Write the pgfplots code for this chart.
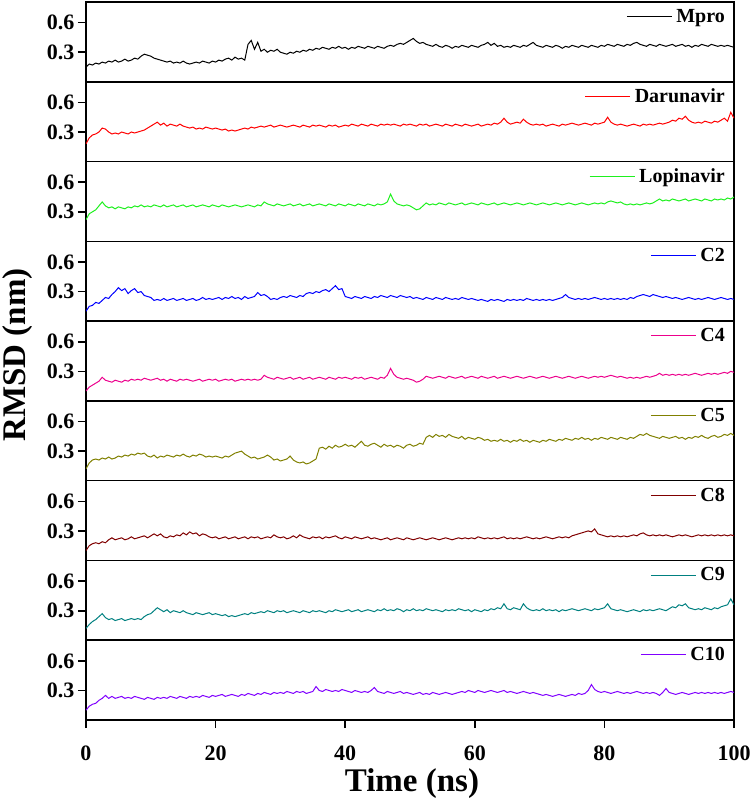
\documentclass[border=0pt]{standalone}
\usepackage{fontspec}
\setmainfont{Liberation Serif}
\usepackage{pgfplots}
\usepackage{pgfplotstable}
\pgfplotsset{compat=1.18}
\definecolor{cgreen}{RGB}{30,240,30}
\definecolor{colive}{RGB}{128,128,0}
\definecolor{cwine}{RGB}{128,0,0}
\definecolor{cteal}{RGB}{0,128,128}
\definecolor{cviolet}{RGB}{128,0,255}

\pgfplotstableread{
t M D L B P O W T V
0 0.15 0.18 0.22 0.10 0.10 0.12 0.10 0.12 0.10
0.5 0.18 0.24 0.28 0.15 0.14 0.18 0.15 0.16 0.14
1 0.17 0.27 0.30 0.16 0.16 0.21 0.17 0.19 0.16
1.5 0.19 0.28 0.32 0.19 0.18 0.22 0.18 0.21 0.17
2 0.18 0.30 0.36 0.18 0.20 0.21 0.17 0.24 0.20
2.5 0.20 0.34 0.40 0.21 0.24 0.23 0.19 0.27 0.22
3 0.19 0.33 0.36 0.24 0.21 0.22 0.18 0.23 0.25
3.5 0.21 0.30 0.34 0.23 0.20 0.24 0.21 0.21 0.22
4 0.20 0.28 0.35 0.27 0.19 0.22 0.23 0.22 0.24
4.5 0.22 0.29 0.33 0.30 0.21 0.23 0.21 0.20 0.22
5 0.20 0.28 0.35 0.34 0.20 0.25 0.22 0.21 0.23
5.5 0.21 0.30 0.34 0.31 0.19 0.24 0.23 0.22 0.24
6 0.23 0.29 0.33 0.33 0.21 0.26 0.21 0.20 0.22
6.5 0.21 0.28 0.35 0.28 0.20 0.25 0.22 0.21 0.23
7 0.22 0.30 0.34 0.31 0.22 0.27 0.24 0.22 0.22
7.5 0.24 0.29 0.36 0.33 0.21 0.26 0.22 0.21 0.24
8 0.23 0.30 0.35 0.29 0.22 0.28 0.23 0.22 0.23
8.5 0.26 0.31 0.37 0.30 0.21 0.27 0.24 0.21 0.22
9 0.28 0.32 0.35 0.26 0.23 0.28 0.25 0.24 0.21
9.5 0.27 0.34 0.36 0.25 0.22 0.25 0.23 0.26 0.23
10 0.26 0.36 0.35 0.24 0.21 0.24 0.25 0.27 0.22
10.5 0.24 0.38 0.37 0.21 0.22 0.26 0.27 0.30 0.21
11 0.23 0.40 0.36 0.22 0.23 0.23 0.25 0.33 0.23
11.5 0.22 0.37 0.35 0.21 0.21 0.25 0.27 0.31 0.22
12 0.21 0.39 0.37 0.23 0.22 0.24 0.24 0.29 0.23
12.5 0.20 0.36 0.35 0.21 0.20 0.26 0.23 0.31 0.22
13 0.21 0.38 0.36 0.22 0.22 0.25 0.25 0.28 0.24
13.5 0.19 0.37 0.37 0.23 0.21 0.24 0.24 0.30 0.23
14 0.20 0.36 0.35 0.21 0.20 0.26 0.26 0.29 0.22
14.5 0.19 0.38 0.36 0.22 0.22 0.25 0.25 0.28 0.24
15 0.21 0.36 0.37 0.23 0.21 0.27 0.28 0.30 0.23
15.5 0.19 0.35 0.35 0.21 0.22 0.25 0.26 0.28 0.22
16 0.18 0.34 0.36 0.22 0.21 0.24 0.29 0.27 0.24
16.5 0.19 0.35 0.37 0.23 0.20 0.26 0.27 0.26 0.23
17 0.20 0.33 0.35 0.21 0.21 0.25 0.28 0.28 0.24
17.5 0.19 0.34 0.36 0.22 0.22 0.27 0.25 0.27 0.23
18 0.21 0.33 0.37 0.24 0.20 0.26 0.27 0.26 0.25
18.5 0.20 0.35 0.36 0.22 0.21 0.24 0.26 0.27 0.24
19 0.19 0.34 0.35 0.23 0.22 0.25 0.24 0.28 0.23
19.5 0.21 0.33 0.37 0.22 0.21 0.24 0.23 0.26 0.25
20 0.20 0.34 0.36 0.23 0.22 0.25 0.24 0.27 0.24
20.5 0.22 0.33 0.35 0.24 0.20 0.24 0.22 0.26 0.25
21 0.21 0.32 0.37 0.22 0.21 0.23 0.23 0.25 0.26
21.5 0.23 0.33 0.36 0.24 0.22 0.25 0.24 0.26 0.24
22 0.24 0.31 0.35 0.23 0.21 0.24 0.22 0.24 0.25
22.5 0.22 0.32 0.36 0.25 0.22 0.26 0.23 0.25 0.26
23 0.25 0.31 0.37 0.23 0.20 0.28 0.24 0.24 0.25
23.5 0.23 0.32 0.36 0.24 0.21 0.29 0.22 0.25 0.24
24 0.24 0.33 0.35 0.22 0.22 0.30 0.23 0.26 0.26
24.5 0.22 0.34 0.36 0.25 0.21 0.27 0.24 0.27 0.25
25 0.38 0.33 0.37 0.23 0.22 0.25 0.22 0.26 0.27
25.5 0.42 0.35 0.36 0.24 0.21 0.23 0.24 0.28 0.26
26 0.33 0.34 0.35 0.25 0.22 0.24 0.23 0.27 0.25
26.5 0.40 0.35 0.37 0.29 0.21 0.22 0.24 0.28 0.27
27 0.31 0.36 0.36 0.26 0.22 0.23 0.22 0.29 0.26
27.5 0.33 0.35 0.40 0.27 0.26 0.24 0.23 0.28 0.28
28 0.30 0.36 0.38 0.25 0.24 0.26 0.24 0.30 0.27
28.5 0.32 0.37 0.37 0.22 0.23 0.24 0.23 0.29 0.26
29 0.31 0.35 0.36 0.23 0.22 0.21 0.26 0.28 0.28
29.5 0.33 0.36 0.38 0.22 0.24 0.22 0.24 0.30 0.27
30 0.30 0.37 0.37 0.24 0.23 0.20 0.23 0.29 0.28
30.5 0.29 0.36 0.36 0.25 0.22 0.21 0.24 0.30 0.27
31 0.28 0.35 0.37 0.24 0.23 0.22 0.22 0.28 0.29
31.5 0.30 0.36 0.38 0.26 0.24 0.25 0.23 0.29 0.28
32 0.29 0.37 0.36 0.25 0.22 0.21 0.25 0.30 0.27
32.5 0.31 0.36 0.37 0.24 0.23 0.19 0.23 0.29 0.29
33 0.30 0.35 0.38 0.26 0.24 0.18 0.26 0.28 0.28
33.5 0.32 0.37 0.36 0.25 0.22 0.19 0.24 0.30 0.29
34 0.31 0.36 0.37 0.28 0.23 0.17 0.23 0.29 0.27
34.5 0.33 0.35 0.38 0.29 0.24 0.18 0.22 0.28 0.28
35 0.32 0.37 0.36 0.28 0.22 0.20 0.24 0.30 0.29
35.5 0.34 0.36 0.37 0.30 0.23 0.22 0.23 0.29 0.34
36 0.33 0.37 0.38 0.29 0.24 0.33 0.24 0.30 0.30
36.5 0.35 0.36 0.37 0.31 0.23 0.34 0.22 0.29 0.29
37 0.34 0.35 0.36 0.32 0.22 0.32 0.24 0.28 0.31
37.5 0.33 0.37 0.38 0.30 0.24 0.35 0.23 0.30 0.30
38 0.35 0.36 0.37 0.33 0.23 0.33 0.24 0.29 0.29
38.5 0.34 0.37 0.36 0.36 0.22 0.36 0.25 0.31 0.30
39 0.36 0.35 0.38 0.32 0.24 0.34 0.23 0.30 0.29
39.5 0.34 0.36 0.37 0.33 0.23 0.35 0.22 0.29 0.31
40 0.35 0.37 0.36 0.25 0.24 0.37 0.24 0.30 0.30
40.5 0.33 0.36 0.38 0.24 0.23 0.35 0.23 0.31 0.29
41 0.35 0.38 0.37 0.23 0.22 0.36 0.22 0.29 0.28
41.5 0.34 0.37 0.36 0.25 0.24 0.34 0.24 0.30 0.30
42 0.36 0.36 0.38 0.24 0.23 0.37 0.23 0.31 0.29
42.5 0.35 0.38 0.37 0.23 0.24 0.40 0.22 0.29 0.28
43 0.34 0.37 0.36 0.25 0.22 0.36 0.23 0.30 0.29
43.5 0.36 0.36 0.38 0.24 0.23 0.35 0.24 0.31 0.28
44 0.35 0.38 0.37 0.23 0.24 0.37 0.22 0.30 0.30
44.5 0.34 0.37 0.36 0.25 0.23 0.38 0.23 0.29 0.33
45 0.36 0.36 0.38 0.24 0.22 0.36 0.22 0.31 0.29
45.5 0.35 0.38 0.37 0.26 0.24 0.34 0.21 0.30 0.28
46 0.34 0.37 0.38 0.25 0.23 0.37 0.22 0.32 0.27
46.5 0.36 0.38 0.40 0.24 0.26 0.35 0.23 0.30 0.29
47 0.37 0.37 0.48 0.26 0.33 0.36 0.21 0.31 0.28
47.5 0.36 0.38 0.41 0.25 0.27 0.34 0.22 0.30 0.27
48 0.38 0.37 0.38 0.24 0.24 0.36 0.23 0.32 0.28
48.5 0.39 0.36 0.37 0.26 0.23 0.35 0.22 0.31 0.29
49 0.38 0.38 0.36 0.25 0.22 0.33 0.21 0.29 0.27
49.5 0.40 0.37 0.37 0.24 0.23 0.36 0.23 0.31 0.28
50 0.42 0.38 0.36 0.25 0.22 0.37 0.22 0.30 0.27
50.5 0.44 0.37 0.34 0.23 0.21 0.35 0.21 0.32 0.26
51 0.41 0.36 0.32 0.24 0.19 0.36 0.22 0.30 0.27
51.5 0.39 0.38 0.33 0.23 0.20 0.38 0.23 0.31 0.28
52 0.40 0.37 0.36 0.22 0.22 0.37 0.22 0.30 0.26
52.5 0.38 0.38 0.39 0.24 0.25 0.44 0.21 0.32 0.27
53 0.37 0.36 0.37 0.23 0.24 0.46 0.22 0.31 0.26
53.5 0.36 0.37 0.38 0.22 0.23 0.44 0.23 0.30 0.28
54 0.38 0.38 0.37 0.24 0.24 0.47 0.22 0.31 0.27
54.5 0.36 0.37 0.39 0.23 0.25 0.45 0.21 0.30 0.26
55 0.35 0.36 0.38 0.22 0.24 0.46 0.22 0.29 0.27
55.5 0.37 0.38 0.37 0.24 0.23 0.44 0.23 0.31 0.28
56 0.36 0.37 0.39 0.23 0.25 0.47 0.22 0.30 0.27
56.5 0.34 0.36 0.38 0.22 0.24 0.45 0.21 0.31 0.26
57 0.36 0.38 0.37 0.23 0.23 0.44 0.22 0.30 0.27
57.5 0.35 0.37 0.38 0.22 0.24 0.43 0.23 0.32 0.28
58 0.37 0.36 0.39 0.24 0.25 0.45 0.22 0.31 0.29
58.5 0.36 0.38 0.37 0.23 0.23 0.42 0.23 0.30 0.28
59 0.35 0.37 0.38 0.22 0.24 0.44 0.22 0.31 0.30
59.5 0.37 0.36 0.39 0.23 0.25 0.43 0.23 0.29 0.29
60 0.36 0.37 0.38 0.22 0.24 0.42 0.22 0.31 0.28
60.5 0.35 0.38 0.37 0.21 0.23 0.44 0.24 0.30 0.30
61 0.37 0.36 0.39 0.22 0.25 0.43 0.23 0.29 0.29
61.5 0.38 0.37 0.38 0.21 0.24 0.41 0.22 0.31 0.28
62 0.40 0.38 0.37 0.20 0.23 0.42 0.23 0.30 0.29
62.5 0.37 0.37 0.38 0.22 0.24 0.40 0.22 0.32 0.30
63 0.39 0.39 0.39 0.21 0.25 0.41 0.23 0.31 0.29
63.5 0.36 0.38 0.37 0.22 0.23 0.40 0.22 0.33 0.28
64 0.37 0.40 0.38 0.21 0.24 0.42 0.23 0.32 0.29
64.5 0.35 0.44 0.39 0.20 0.25 0.40 0.24 0.37 0.30
65 0.36 0.40 0.38 0.22 0.24 0.41 0.22 0.32 0.28
65.5 0.35 0.38 0.37 0.21 0.23 0.39 0.23 0.31 0.29
66 0.37 0.39 0.38 0.22 0.24 0.41 0.22 0.33 0.28
66.5 0.36 0.40 0.39 0.21 0.25 0.40 0.23 0.32 0.27
67 0.35 0.39 0.38 0.22 0.24 0.42 0.22 0.31 0.28
67.5 0.37 0.43 0.37 0.21 0.23 0.40 0.23 0.37 0.29
68 0.36 0.40 0.38 0.23 0.24 0.41 0.24 0.33 0.28
68.5 0.38 0.38 0.39 0.22 0.25 0.39 0.23 0.31 0.27
69 0.40 0.37 0.38 0.21 0.24 0.41 0.22 0.30 0.28
69.5 0.37 0.38 0.37 0.22 0.23 0.40 0.23 0.31 0.27
70 0.36 0.37 0.38 0.21 0.24 0.39 0.22 0.30 0.26
70.5 0.35 0.38 0.39 0.22 0.25 0.41 0.23 0.32 0.25
71 0.37 0.36 0.38 0.21 0.24 0.40 0.24 0.30 0.26
71.5 0.36 0.37 0.37 0.22 0.23 0.42 0.23 0.31 0.25
72 0.35 0.38 0.38 0.21 0.24 0.41 0.22 0.30 0.24
72.5 0.37 0.37 0.39 0.22 0.25 0.40 0.23 0.31 0.25
73 0.36 0.36 0.38 0.23 0.24 0.42 0.24 0.29 0.26
73.5 0.34 0.38 0.37 0.24 0.23 0.41 0.23 0.31 0.25
74 0.36 0.37 0.38 0.27 0.24 0.43 0.24 0.30 0.24
74.5 0.35 0.38 0.39 0.24 0.25 0.42 0.23 0.31 0.25
75 0.37 0.39 0.38 0.23 0.24 0.41 0.25 0.32 0.26
75.5 0.36 0.38 0.37 0.22 0.23 0.43 0.26 0.31 0.25
76 0.35 0.37 0.38 0.23 0.24 0.42 0.27 0.30 0.27
76.5 0.37 0.38 0.39 0.22 0.25 0.44 0.28 0.31 0.26
77 0.36 0.39 0.38 0.23 0.24 0.42 0.29 0.32 0.27
77.5 0.35 0.38 0.37 0.22 0.23 0.43 0.30 0.31 0.30
78 0.37 0.37 0.38 0.23 0.24 0.41 0.29 0.30 0.36
78.5 0.36 0.39 0.39 0.24 0.25 0.43 0.32 0.32 0.31
79 0.35 0.38 0.38 0.23 0.24 0.42 0.27 0.31 0.29
79.5 0.37 0.39 0.39 0.22 0.25 0.44 0.26 0.32 0.28
80 0.36 0.40 0.38 0.23 0.24 0.43 0.25 0.33 0.29
80.5 0.38 0.45 0.40 0.22 0.25 0.42 0.24 0.37 0.28
81 0.37 0.40 0.41 0.23 0.26 0.44 0.25 0.32 0.27
81.5 0.36 0.38 0.40 0.22 0.25 0.43 0.24 0.31 0.28
82 0.38 0.37 0.39 0.23 0.24 0.42 0.25 0.30 0.29
82.5 0.37 0.38 0.40 0.22 0.25 0.44 0.24 0.31 0.28
83 0.36 0.37 0.38 0.23 0.24 0.43 0.25 0.30 0.27
83.5 0.38 0.36 0.37 0.22 0.23 0.42 0.24 0.29 0.28
84 0.37 0.37 0.38 0.24 0.24 0.44 0.25 0.30 0.27
84.5 0.39 0.38 0.37 0.23 0.23 0.43 0.26 0.31 0.28
85 0.40 0.37 0.38 0.25 0.24 0.45 0.25 0.30 0.29
85.5 0.38 0.36 0.37 0.26 0.23 0.47 0.27 0.29 0.28
86 0.37 0.38 0.38 0.27 0.24 0.46 0.28 0.31 0.27
86.5 0.36 0.37 0.39 0.26 0.25 0.48 0.26 0.30 0.28
87 0.38 0.38 0.38 0.25 0.24 0.46 0.25 0.31 0.27
87.5 0.37 0.37 0.39 0.27 0.25 0.45 0.26 0.30 0.28
88 0.36 0.38 0.41 0.26 0.26 0.44 0.25 0.31 0.27
88.5 0.38 0.39 0.43 0.25 0.28 0.43 0.26 0.32 0.25
89 0.37 0.38 0.41 0.24 0.26 0.45 0.25 0.31 0.28
89.5 0.36 0.39 0.42 0.25 0.27 0.44 0.26 0.30 0.32
90 0.37 0.40 0.41 0.24 0.26 0.43 0.25 0.32 0.28
90.5 0.38 0.42 0.43 0.23 0.27 0.44 0.24 0.34 0.27
91 0.36 0.41 0.42 0.24 0.26 0.45 0.25 0.33 0.26
91.5 0.37 0.44 0.41 0.23 0.27 0.43 0.26 0.36 0.27
92 0.38 0.43 0.42 0.22 0.26 0.44 0.25 0.35 0.28
92.5 0.36 0.46 0.43 0.23 0.27 0.42 0.26 0.37 0.27
93 0.37 0.42 0.41 0.24 0.26 0.44 0.25 0.33 0.26
93.5 0.35 0.40 0.42 0.23 0.27 0.43 0.24 0.32 0.27
94 0.37 0.39 0.43 0.22 0.28 0.45 0.25 0.31 0.28
94.5 0.36 0.40 0.42 0.23 0.27 0.44 0.26 0.32 0.27
95 0.38 0.39 0.41 0.22 0.26 0.46 0.25 0.31 0.28
95.5 0.37 0.41 0.43 0.23 0.27 0.44 0.26 0.33 0.27
96 0.36 0.40 0.42 0.24 0.28 0.43 0.25 0.32 0.28
96.5 0.38 0.39 0.41 0.23 0.27 0.45 0.26 0.31 0.27
97 0.37 0.41 0.43 0.22 0.28 0.46 0.25 0.33 0.28
97.5 0.36 0.40 0.42 0.23 0.27 0.44 0.26 0.32 0.27
98 0.37 0.42 0.43 0.24 0.28 0.45 0.25 0.34 0.28
98.5 0.36 0.44 0.42 0.23 0.29 0.47 0.26 0.35 0.27
99 0.37 0.41 0.44 0.22 0.28 0.46 0.25 0.36 0.28
99.5 0.36 0.50 0.43 0.23 0.30 0.48 0.26 0.42 0.29
100 0.35 0.44 0.45 0.22 0.29 0.46 0.25 0.36 0.28
}\rmsd

\pgfplotsset{
  panel/.style={
    at={(0pt,#1)}, anchor=north west,
    width=648pt, height=79.78pt, scale only axis,
    xmin=0, xmax=100, ymin=0, ymax=0.81,
    ytick={0.3,0.6}, ytick pos=left, tick align=outside,
    major tick length=8pt,
    xtick=\empty,
    axis line style={line width=1.6pt},
    every tick/.style={black, line width=1.6pt},
    /pgf/number format/assume math mode=true,
    yticklabel style={font=\fontsize{22}{22}\selectfont\bfseries,
      /pgf/number format/fixed, /pgf/number format/precision=1,
      /pgf/number format/fixed zerofill},
    xticklabel style={font=\fontsize{22}{22}\selectfont\bfseries, yshift=-14pt},
    legend style={at={(1,1)}, anchor=north east, draw=none, fill=none,
      font=\fontsize{20}{20}\selectfont\bfseries, xshift=-2pt, yshift=-3pt,
      nodes={inner xsep=4pt}},
    legend image code/.code={\draw[##1,line width=1pt] (0pt,0pt) -- (45pt,0pt);},
  },
}

\begin{document}
\begin{tikzpicture}
\useasboundingbox (-86pt,2pt) rectangle (666pt,-806pt);
\begin{axis}[panel=0pt]
\addplot[black, line width=1pt] table[x=t,y=M]{\rmsd};
\addlegendentry{Mpro}
\end{axis}
\begin{axis}[panel=-79.78pt]
\addplot[red, line width=1pt] table[x=t,y=D]{\rmsd};
\addlegendentry{Darunavir}
\end{axis}
\begin{axis}[panel=-159.56pt]
\addplot[cgreen, line width=1pt] table[x=t,y=L]{\rmsd};
\addlegendentry{Lopinavir}
\end{axis}
\begin{axis}[panel=-239.34pt]
\addplot[blue, line width=1pt] table[x=t,y=B]{\rmsd};
\addlegendentry{C2}
\end{axis}
\begin{axis}[panel=-319.12pt,
  ylabel={RMSD (nm)},
  ylabel style={at={(axis description cs:-0.105,0.575)}, anchor=center,
    font=\fontsize{33}{33}\selectfont\bfseries}]
\addplot[magenta, line width=1pt] table[x=t,y=P]{\rmsd};
\addlegendentry{C4}
\end{axis}
\begin{axis}[panel=-398.9pt]
\addplot[colive, line width=1pt] table[x=t,y=O]{\rmsd};
\addlegendentry{C5}
\end{axis}
\begin{axis}[panel=-478.68pt]
\addplot[cwine, line width=1pt] table[x=t,y=W]{\rmsd};
\addlegendentry{C8}
\end{axis}
\begin{axis}[panel=-558.46pt]
\addplot[cteal, line width=1pt] table[x=t,y=T]{\rmsd};
\addlegendentry{C9}
\end{axis}
\begin{axis}[panel=-638.24pt,
  xtick={0,20,40,60,80,100}, xtick pos=bottom,
  xlabel={Time (ns)},
  xlabel style={at={(axis description cs:0.503,-0.80)}, anchor=center,
    font=\fontsize{33}{33}\selectfont\bfseries}]
\addplot[cviolet, line width=1pt] table[x=t,y=V]{\rmsd};
\addlegendentry{C10}
\end{axis}
\end{tikzpicture}
\end{document}
